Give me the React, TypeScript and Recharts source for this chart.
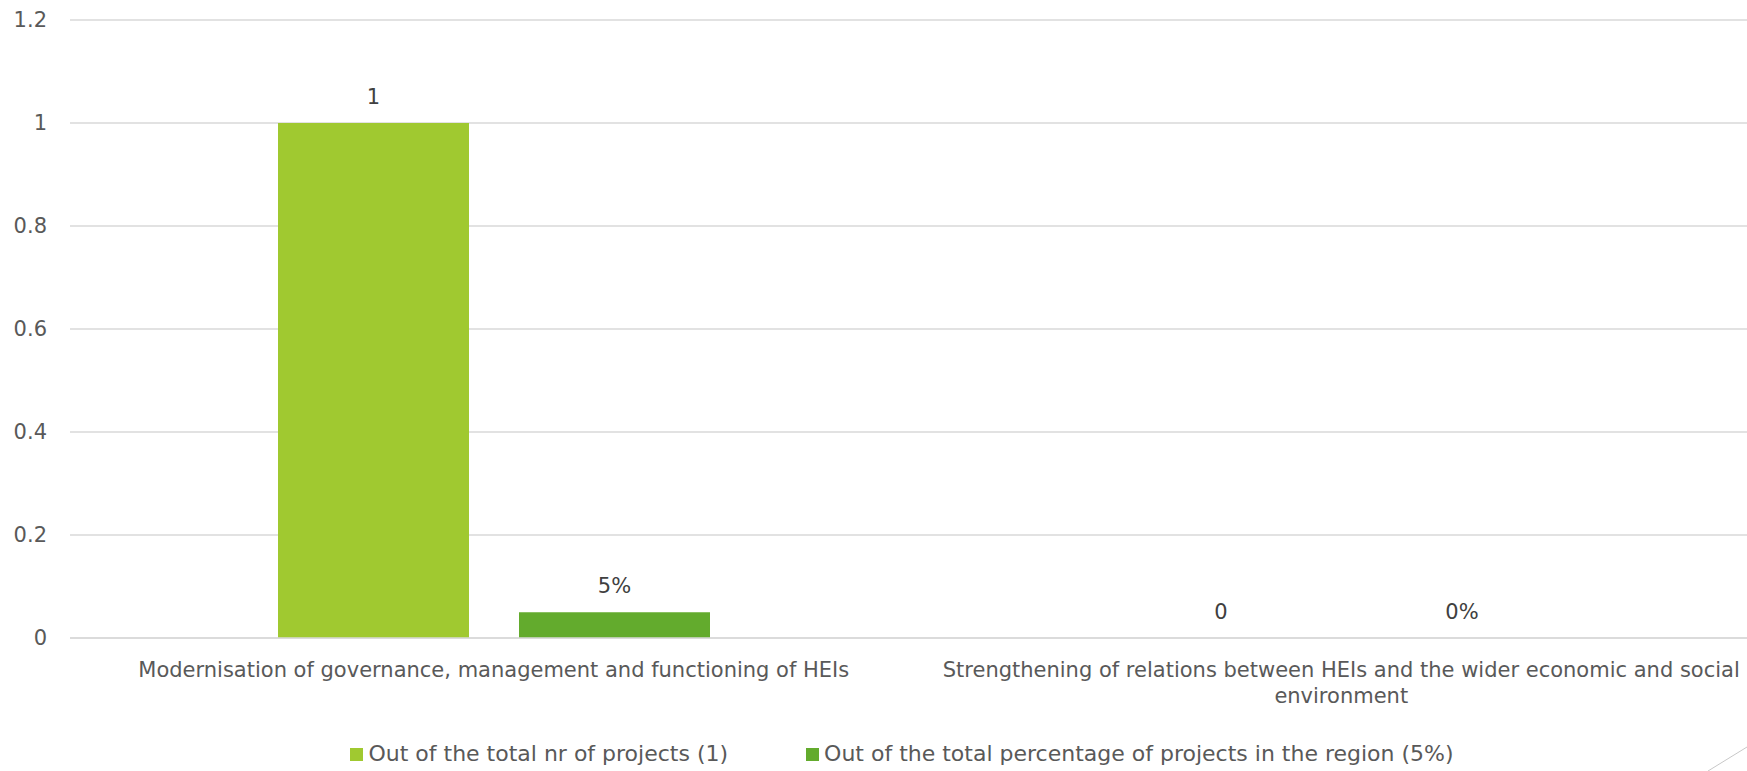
import React from 'react';
import { BarChart, Bar, XAxis, YAxis, CartesianGrid, LabelList } from 'recharts';

const categories = [
  'Modernisation of governance, management and functioning of HEIs',
  'Strengthening of relations between HEIs and the wider economic and social environment',
];
const totalProjects = [1, 0];
const regionShare = [0.05, 0];
const seriesNames = [
  'Out of the total nr of projects (1)',
  'Out of the total percentage of projects in the region (5%)',
];
const seriesColors = ['#A0C930', '#63AB2D'];
const yTicks = [0, 0.2, 0.4, 0.6, 0.8, 1, 1.2];

const FONT = "'DejaVu Sans', sans-serif";
const FONT_SIZE = 21;
const AXIS_COLOR = '#595959';

const data = categories.map((name, i) => ({
  name,
  total: totalProjects[i],
  share: regionShare[i],
}));

// greedy word wrap, measured with a canvas
function wrapWords(text: string, maxWidth: number): string[] {
  const ctx = document.createElement('canvas').getContext('2d');
  if (!ctx) return [text];
  ctx.font = `${FONT_SIZE}px 'DejaVu Sans'`;
  const lines: string[] = [];
  let cur = '';
  text.split(' ').forEach((w) => {
    const next = cur ? `${cur} ${w}` : w;
    if (cur && ctx.measureText(next).width > maxWidth) {
      lines.push(cur);
      cur = w;
    } else {
      cur = next;
    }
  });
  if (cur) lines.push(cur);
  return lines;
}

function CategoryTick(props: any) {
  const { x, y, payload } = props;
  const lines = wrapWords(String(payload.value), 830);
  return (
    <text x={x} y={y} textAnchor="middle" fill={AXIS_COLOR} fontSize={FONT_SIZE} fontFamily={FONT}>
      {lines.map((l, i) => (
        <tspan key={i} x={x} dy={i === 0 ? 15 : 26}>
          {l}
        </tspan>
      ))}
    </text>
  );
}

export default function App() {
  return (
    <div style={{ position: 'absolute', left: 0, top: 0, width: 1747, height: 771, overflow: 'hidden', background: '#fff' }}>
      <BarChart
        width={1765}
        height={771}
        data={data}
        margin={{ top: 20, right: 0, left: 0, bottom: 0 }}
        barSize={191}
        barGap={50}
      >
        <CartesianGrid vertical={false} stroke="#D9D9D9" strokeWidth={1.5} />
        <XAxis
          dataKey="name"
          height={133}
          interval={0}
          axisLine={{ stroke: '#D9D9D9', strokeWidth: 1.5 }}
          tickLine={false}
          tickSize={0}
          tickMargin={24}
          tick={(p: any) => <CategoryTick {...p} />}
        />
        <YAxis
          width={70}
          domain={[0, 1.2]}
          ticks={yTicks}
          axisLine={false}
          tickLine={false}
          tickSize={0}
          tickMargin={23}
          tick={{ fill: AXIS_COLOR, fontSize: FONT_SIZE, fontFamily: FONT }}
        />
        <Bar dataKey="total" name={seriesNames[0]} fill={seriesColors[0]} minPointSize={0.01} isAnimationActive={false}>
          <LabelList
            dataKey="total"
            position="top"
            offset={19}
            fill="#404040"
            fontSize={FONT_SIZE}
            fontFamily={FONT}
          />
        </Bar>
        <Bar dataKey="share" name={seriesNames[1]} fill={seriesColors[1]} minPointSize={0.01} isAnimationActive={false}>
          <LabelList
            dataKey="share"
            position="top"
            offset={19}
            fill="#404040"
            fontSize={FONT_SIZE}
            fontFamily={FONT}
            formatter={(v: any) => `${Math.round(Number(v) * 100)}%`}
          />
        </Bar>
      </BarChart>

      <div
        style={{
          position: 'absolute',
          left: 0,
          top: 741,
          width: 1804,
          display: 'flex',
          justifyContent: 'center',
          gap: 78,
          fontFamily: FONT,
          fontSize: 22,
          color: AXIS_COLOR,
          lineHeight: '26px',
        }}
      >
        {seriesNames.map((n, i) => (
          <div key={n} style={{ display: 'flex', alignItems: 'center', gap: 5 }}>
            <span style={{ width: 13, height: 13, background: seriesColors[i], display: 'inline-block' }} />
            <span>{n}</span>
          </div>
        ))}
      </div>

      <svg style={{ position: 'absolute', left: 0, top: 0 }} width={1747} height={771}>
        <line x1={1747} y1={747} x2={1708} y2={771} stroke="#C8C8C8" strokeWidth={1} />
      </svg>
    </div>
  );
}
